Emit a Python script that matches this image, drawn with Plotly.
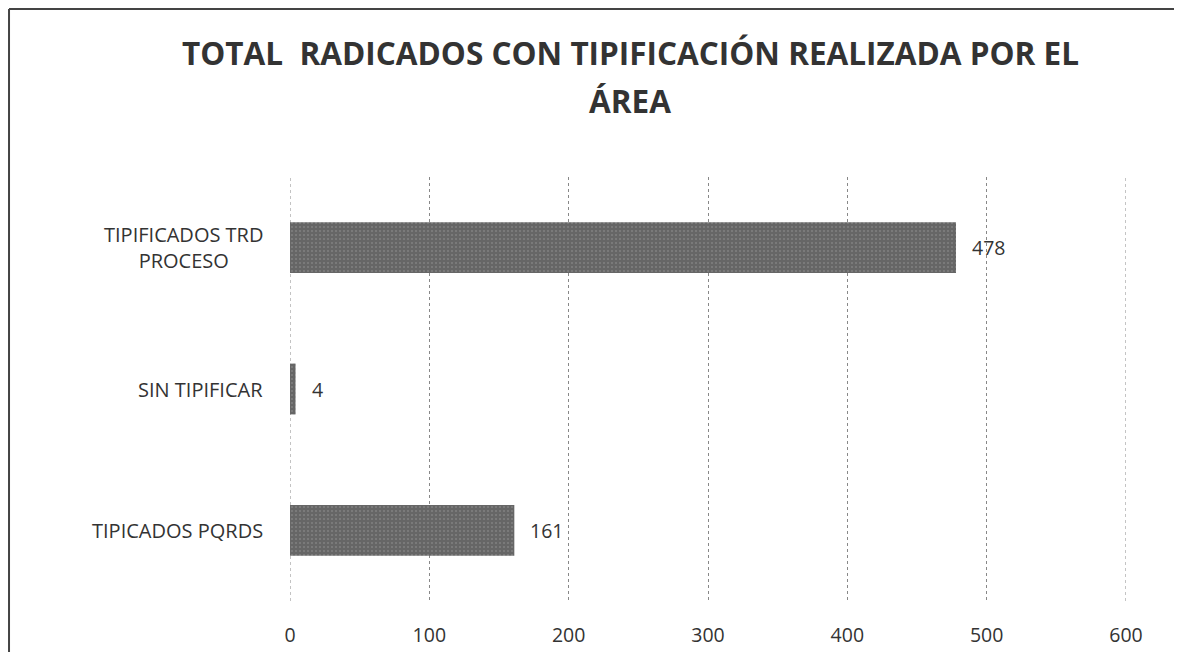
import plotly.graph_objects as go

categories = ["TIPICADOS PQRDS", "SIN TIPIFICAR", "TIPIFICADOS TRD<br>PROCESO"]
values = [161, 4, 478]
tick_vals = [0, 100, 200, 300, 400, 500, 600]
title_lines = ["TOTAL  RADICADOS CON TIPIFICACIÓN REALIZADA POR EL", "ÁREA"]

FONT = "Open Sans"
TXT = "#333333"

fig = go.Figure()
fig.add_trace(go.Bar(
    y=categories, x=values, orientation="h",
    marker=dict(color="#666666", line=dict(width=0),
                pattern=dict(shape=".", fgcolor="#999999", size=4, solidity=0.2)),
    width=0.36, hoverinfo="x+y",
))

# value labels
for c, v in zip(categories, values):
    fig.add_annotation(x=v, xref="x", y=c, yref="y", text=str(v),
                       xanchor="left", yanchor="middle", xshift=14,
                       showarrow=False, font=dict(family=FONT, size=19.5, color=TXT))

# category labels (centered multi-line like the original)
for c in categories:
    fig.add_annotation(x=-0.03, xref="paper", y=c, yref="y", text=c,
                       xanchor="right", yanchor="middle", align="center",
                       showarrow=False, font=dict(family=FONT, size=20, color=TXT))

# title lines
for line, yp in zip(title_lines, [1.294, 1.180]):
    fig.add_annotation(x=0.4067, xref="paper", y=yp, yref="paper",
                       text="<b>" + line + "</b>", xanchor="center", yanchor="middle",
                       showarrow=False, font=dict(family=FONT, size=31.5, color=TXT))

# gridlines at range edges (0 and 600)
for tv in [0, 600]:
    fig.add_shape(type="line", xref="x", yref="paper", x0=tv, x1=tv, y0=0, y1=1,
                  line=dict(color="#888888", width=1, dash="dot"), layer="below")

# chart border (left and top edges visible in the original)
fig.add_shape(type="line", xref="paper", yref="paper",
              x0=-0.3361, x1=-0.3361, y0=-0.3, y1=1.396,
              line=dict(color="#444444", width=2))
fig.add_shape(type="line", xref="paper", yref="paper",
              x0=-0.3361, x1=1.3, y0=1.396, y1=1.396,
              line=dict(color="#444444", width=2))

fig.update_layout(
    width=1182, height=652,
    margin=dict(l=282, r=64, t=169, b=59),
    paper_bgcolor="white", plot_bgcolor="white",
    showlegend=False,
    xaxis=dict(range=[0, 600], tickvals=tick_vals, showgrid=True,
               gridcolor="#888888", griddash="dot", gridwidth=1,
               zeroline=False, showline=False, ticks="",
               ticklabelstandoff=20,
               tickfont=dict(family=FONT, size=19.5, color=TXT)),
    yaxis=dict(showticklabels=False, showgrid=False, zeroline=False,
               showline=False, ticks=""),
    font=dict(family=FONT),
)

fig.write_html("out.html")
